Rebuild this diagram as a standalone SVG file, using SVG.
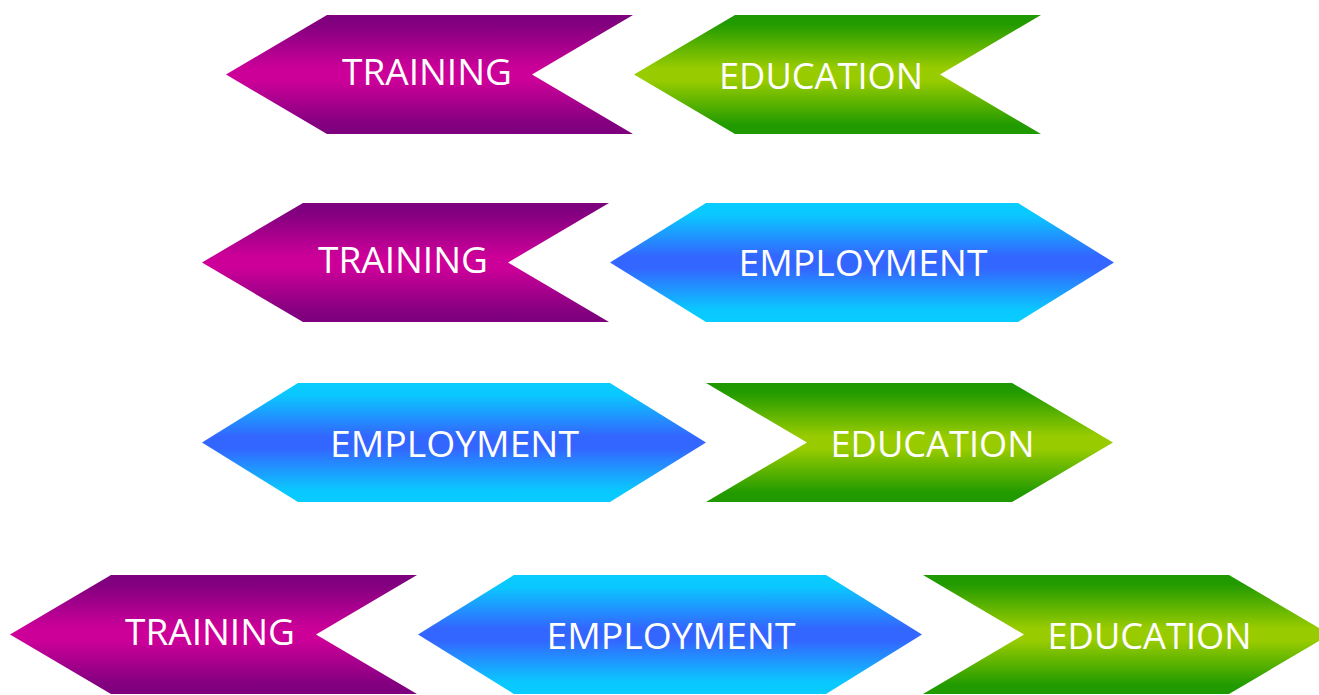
<svg xmlns="http://www.w3.org/2000/svg" width="1319" height="695" viewBox="0 0 1319 695">
<defs>
<linearGradient id="gPurple" x1="0" y1="0" x2="0" y2="1">
<stop offset="0" stop-color="#7d007d"/>
<stop offset="0.08" stop-color="#82007f"/>
<stop offset="0.45" stop-color="#cc0099"/>
<stop offset="0.55" stop-color="#cc0099"/>
<stop offset="0.92" stop-color="#82007f"/>
<stop offset="1" stop-color="#7d007d"/>
</linearGradient>
<linearGradient id="gGreen" x1="0" y1="0" x2="0" y2="1">
<stop offset="0" stop-color="#1f9900"/>
<stop offset="0.08" stop-color="#229b00"/>
<stop offset="0.45" stop-color="#99cc00"/>
<stop offset="0.55" stop-color="#99cc00"/>
<stop offset="0.92" stop-color="#229b00"/>
<stop offset="1" stop-color="#1f9900"/>
</linearGradient>
<linearGradient id="gBlue" x1="0" y1="0" x2="0" y2="1">
<stop offset="0" stop-color="#08ccff"/>
<stop offset="0.1" stop-color="#0ac8ff"/>
<stop offset="0.45" stop-color="#3366ff"/>
<stop offset="0.55" stop-color="#3366ff"/>
<stop offset="0.9" stop-color="#0ac8ff"/>
<stop offset="1" stop-color="#08ccff"/>
</linearGradient>
</defs>
<style>
.lbl{font-family:"Open Sans","Noto Sans",sans-serif;font-size:37px;fill:#ffffff;text-anchor:middle}
.tr{fill:url(#gPurple)}
.ed{fill:url(#gGreen)}
.em{fill:url(#gBlue)}
</style>
<g id="row1-training">
<path class="tr" d="M327,15 L633,15 L532,74.5 L633,134 L327,134 L226,74.5 Z"/>
<text class="lbl" x="427" y="85" textLength="170" lengthAdjust="spacingAndGlyphs">TRAINING</text>
</g>
<g id="row1-education">
<path class="ed" d="M735,15 L1041,15 L940,74.5 L1041,134 L735,134 L634,74.5 Z"/>
<text class="lbl" x="821" y="89" textLength="204" lengthAdjust="spacingAndGlyphs">EDUCATION</text>
</g>
<g id="row2-training">
<path class="tr" d="M303,203 L609,203 L508,262.5 L609,322 L303,322 L202,262.5 Z"/>
<text class="lbl" x="403" y="273" textLength="170" lengthAdjust="spacingAndGlyphs">TRAINING</text>
</g>
<g id="row2-employment">
<path class="em" d="M706,203 L1018,203 L1114,262.5 L1018,322 L706,322 L610,262.5 Z"/>
<text class="lbl" x="863" y="276" textLength="249" lengthAdjust="spacingAndGlyphs">EMPLOYMENT</text>
</g>
<g id="row3-employment">
<path class="em" d="M298,383 L610,383 L706,442.5 L610,502 L298,502 L202,442.5 Z"/>
<text class="lbl" x="454.5" y="457" textLength="249" lengthAdjust="spacingAndGlyphs">EMPLOYMENT</text>
</g>
<g id="row3-education">
<path class="ed" d="M706,383 L1012,383 L1113,442.5 L1012,502 L706,502 L807,442.5 Z"/>
<text class="lbl" x="932.5" y="457" textLength="204" lengthAdjust="spacingAndGlyphs">EDUCATION</text>
</g>
<g id="row4-training">
<path class="tr" d="M111,575 L417,575 L316,634.5 L417,694 L111,694 L10,634.5 Z"/>
<text class="lbl" x="210" y="645" textLength="170" lengthAdjust="spacingAndGlyphs">TRAINING</text>
</g>
<g id="row4-employment">
<path class="em" d="M514,575 L826,575 L922,634.5 L826,694 L514,694 L418,634.5 Z"/>
<text class="lbl" x="671" y="649" textLength="249" lengthAdjust="spacingAndGlyphs">EMPLOYMENT</text>
</g>
<g id="row4-education">
<path class="ed" d="M923,575 L1229,575 L1330,634.5 L1229,694 L923,694 L1024,634.5 Z"/>
<text class="lbl" x="1149.5" y="649" textLength="204" lengthAdjust="spacingAndGlyphs">EDUCATION</text>
</g>
</svg>
